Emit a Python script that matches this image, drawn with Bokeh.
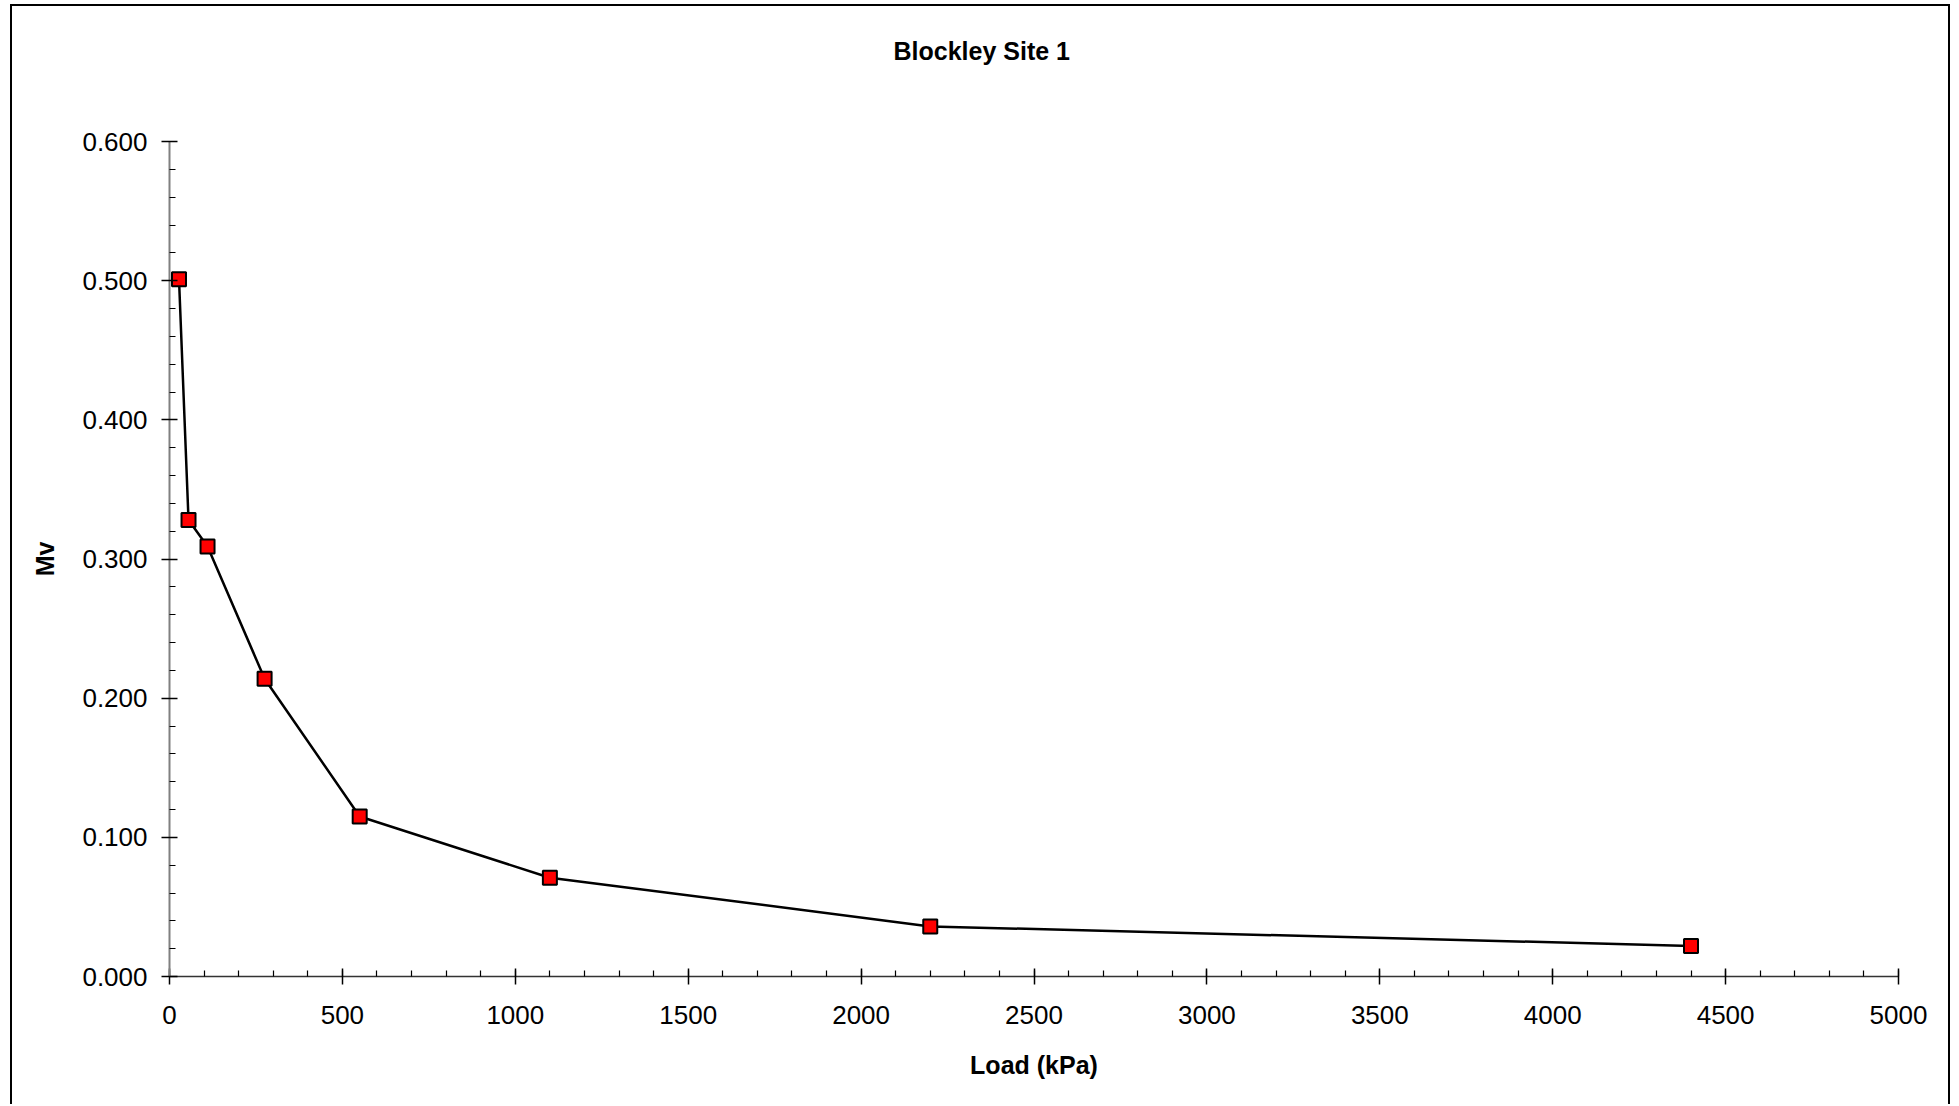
from bokeh.plotting import figure
from bokeh.models import Range1d, FixedTicker, PrintfTickFormatter, ColumnDataSource, Title
from bokeh.embed import file_html
from bokeh.resources import INLINE

# Data
load_kpa = [27.5, 55, 110, 275, 550, 1100, 2200, 4400]
mv = [0.501, 0.328, 0.309, 0.214, 0.115, 0.071, 0.036, 0.022]
title_text = "Blockley Site 1"
x_label = "Load (kPa)"
y_label = "Mv"
x_ticks = [0, 500, 1000, 1500, 2000, 2500, 3000, 3500, 4000, 4500, 5000]
y_ticks = [0.0, 0.1, 0.2, 0.3, 0.4, 0.5, 0.6]
x_minor = [i * 100 for i in range(51)]
y_minor = [round(i * 0.02, 2) for i in range(31)]

FONT = "Liberation Sans"

p = figure(width=1940, height=1100, output_backend="svg", toolbar_location=None,
           x_range=Range1d(0, 5000), y_range=Range1d(0, 0.6),
           min_border_left=157, min_border_right=54, min_border_top=135, min_border_bottom=130)
p.styles = {"border-left": "2px solid #000000", "border-top": "2px solid #000000",
            "border-right": "2px solid #000000", "margin-left": "10px", "margin-top": "4px"}
p.outline_line_color = None
p.xgrid.visible = False
p.ygrid.visible = False
p.background_fill_color = "white"
p.border_fill_color = "white"

src = ColumnDataSource(dict(x=load_kpa, y=mv))
p.line("x", "y", source=src, line_color="black", line_width=2.5)
p.scatter("x", "y", source=src, marker="square", size=14, fill_color="#FF0000",
          line_color="black", line_width=2)

xa = p.xaxis[0]
xa.ticker = FixedTicker(ticks=x_ticks, minor_ticks=x_minor)
xa.axis_label = x_label
ya = p.yaxis[0]
ya.ticker = FixedTicker(ticks=y_ticks, minor_ticks=y_minor)
ya.formatter = PrintfTickFormatter(format="%.3f")
ya.axis_label = y_label

for ax in (xa, ya):
    ax.major_label_text_font = FONT
    ax.major_label_text_font_size = "26px"
    ax.major_label_text_color = "black"
    ax.axis_label_text_font = FONT
    ax.axis_label_text_font_size = "25px"
    ax.axis_label_text_font_style = "bold"
    ax.axis_label_text_color = "black"
    ax.major_tick_in = 8
    ax.major_tick_out = 8
    ax.minor_tick_in = 6
    ax.minor_tick_out = 0
    ax.major_tick_line_color = "black"
    ax.minor_tick_line_color = "black"
    ax.major_tick_line_width = 1.5
    ax.minor_tick_line_width = 1.2

xa.axis_line_color = "#333333"
xa.axis_line_width = 1.5
ya.axis_line_color = "#808080"
ya.axis_line_width = 2
xa.major_label_standoff = 21
xa.axis_label_standoff = 24
ya.major_label_standoff = 14
ya.axis_label_standoff = 20

# empty default title; spacer panel next to the frame, then the real title above it
p.title.text = ""
p.add_layout(Title(text=" ", text_font_size="1px", standoff=52), "above")
p.add_layout(Title(text=title_text, text_font=FONT, text_font_size="25px",
                   text_font_style="bold", text_color="black", align="left",
                   offset=724, vertical_align="top", standoff=40), "above")

open("out.html", "w").write(file_html(p, INLINE))
